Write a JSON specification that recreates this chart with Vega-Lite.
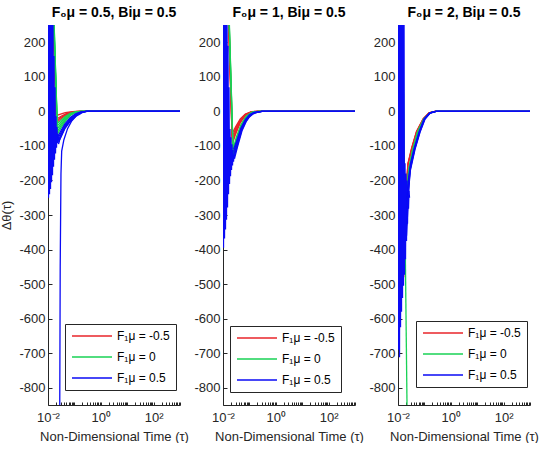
{
  "$schema": "https://vega.github.io/schema/vega-lite/v6.json",
  "padding": {"left": 0, "top": 6, "right": 0, "bottom": 0},
  "config": {
    "view": {"stroke": null},
    "font": "Liberation Sans",
    "axis": {
      "domainColor": "#262626", "tickColor": "#262626", "labelColor": "#262626", "titleColor": "#262626",
      "labelFont": "Liberation Sans", "titleFont": "Liberation Sans", "labelFontSize": 13, "titleFontSize": 13,
      "titleFontWeight": "normal", "grid": false, "tickSize": -4, "labelPadding": 7, "labelFlush": false
    },
    "title": {"fontSize": 14, "font": "Liberation Sans", "fontWeight": "bold", "color": "#000", "offset": 5},
    "legend": {
      "orient": "none", "title": null,
      "symbolType": "M-1,0H7", "symbolSize": 100, "symbolStrokeWidth": 1.5,
      "strokeColor": "#262626", "fillColor": "white", "padding": 6, "rowPadding": 9,
      "labelFont": "Liberation Sans", "labelFontSize": 12, "labelColor": "#000", "labelOffset": 34
    }
  },
  "datasets": {
    "p1": [
      {"g":"-0.5","c":"r1","t":0.0142,"v":350},{"g":"-0.5","c":"r1","t":0.0205,"v":-12},{"g":"-0.5","c":"r1","t":0.03,"v":-8},{"g":"-0.5","c":"r1","t":0.045,"v":-4},{"g":"-0.5","c":"r1","t":0.07,"v":-1.5},{"g":"-0.5","c":"r1","t":0.11,"v":0},{"g":"-0.5","c":"r1","t":1000,"v":0},
      {"g":"-0.5","c":"r2","t":0.0145,"v":350},{"g":"-0.5","c":"r2","t":0.021,"v":-22},{"g":"-0.5","c":"r2","t":0.03,"v":-15},{"g":"-0.5","c":"r2","t":0.045,"v":-8},{"g":"-0.5","c":"r2","t":0.07,"v":-3},{"g":"-0.5","c":"r2","t":0.11,"v":-0.5},{"g":"-0.5","c":"r2","t":0.15,"v":0},{"g":"-0.5","c":"r2","t":1000,"v":0},
      {"g":"-0.5","c":"r4","t":0.0147,"v":350},{"g":"-0.5","c":"r4","t":0.0212,"v":-27},{"g":"-0.5","c":"r4","t":0.03,"v":-18},{"g":"-0.5","c":"r4","t":0.045,"v":-10},{"g":"-0.5","c":"r4","t":0.07,"v":-4},{"g":"-0.5","c":"r4","t":0.11,"v":-0.8},{"g":"-0.5","c":"r4","t":0.155,"v":0},{"g":"-0.5","c":"r4","t":1000,"v":0},
      {"g":"-0.5","c":"r3","t":0.0148,"v":350},{"g":"-0.5","c":"r3","t":0.0215,"v":-32},{"g":"-0.5","c":"r3","t":0.03,"v":-22},{"g":"-0.5","c":"r3","t":0.045,"v":-12},{"g":"-0.5","c":"r3","t":0.07,"v":-5},{"g":"-0.5","c":"r3","t":0.11,"v":-1},{"g":"-0.5","c":"r3","t":0.16,"v":0},{"g":"-0.5","c":"r3","t":1000,"v":0},
      {"g":"0","c":"g1","t":0.015,"v":350},{"g":"0","c":"g1","t":0.022,"v":-35},{"g":"0","c":"g1","t":0.03,"v":-27},{"g":"0","c":"g1","t":0.045,"v":-15},{"g":"0","c":"g1","t":0.07,"v":-6},{"g":"0","c":"g1","t":0.11,"v":-1.5},{"g":"0","c":"g1","t":0.17,"v":0},{"g":"0","c":"g1","t":1000,"v":0},
      {"g":"0","c":"g4","t":0.0151,"v":350},{"g":"0","c":"g4","t":0.0222,"v":-42},{"g":"0","c":"g4","t":0.03,"v":-32},{"g":"0","c":"g4","t":0.045,"v":-18},{"g":"0","c":"g4","t":0.07,"v":-7.5},{"g":"0","c":"g4","t":0.11,"v":-1.8},{"g":"0","c":"g4","t":0.175,"v":0},{"g":"0","c":"g4","t":1000,"v":0},
      {"g":"0","c":"g2","t":0.0153,"v":350},{"g":"0","c":"g2","t":0.0225,"v":-50},{"g":"0","c":"g2","t":0.03,"v":-38},{"g":"0","c":"g2","t":0.045,"v":-22},{"g":"0","c":"g2","t":0.07,"v":-9},{"g":"0","c":"g2","t":0.11,"v":-2},{"g":"0","c":"g2","t":0.18,"v":0},{"g":"0","c":"g2","t":1000,"v":0},
      {"g":"0","c":"g5","t":0.0155,"v":350},{"g":"0","c":"g5","t":0.0228,"v":-58},{"g":"0","c":"g5","t":0.0305,"v":-43},{"g":"0","c":"g5","t":0.0455,"v":-25},{"g":"0","c":"g5","t":0.07,"v":-10.5},{"g":"0","c":"g5","t":0.11,"v":-2.5},{"g":"0","c":"g5","t":0.19,"v":0},{"g":"0","c":"g5","t":1000,"v":0},
      {"g":"0","c":"g3","t":0.0156,"v":350},{"g":"0","c":"g3","t":0.023,"v":-66},{"g":"0","c":"g3","t":0.031,"v":-48},{"g":"0","c":"g3","t":0.046,"v":-28},{"g":"0","c":"g3","t":0.07,"v":-12},{"g":"0","c":"g3","t":0.11,"v":-3},{"g":"0","c":"g3","t":0.2,"v":0},{"g":"0","c":"g3","t":1000,"v":0},
      {"g":"0.5","c":"bz","t":0.01,"v":320},{"g":"0.5","c":"bz","t":0.01045,"v":-250},{"g":"0.5","c":"bz","t":0.01091,"v":320},{"g":"0.5","c":"bz","t":0.0114,"v":-240},{"g":"0.5","c":"bz","t":0.01191,"v":320},{"g":"0.5","c":"bz","t":0.01244,"v":-225},{"g":"0.5","c":"bz","t":0.01299,"v":320},{"g":"0.5","c":"bz","t":0.01357,"v":-205},{"g":"0.5","c":"bz","t":0.01418,"v":320},{"g":"0.5","c":"bz","t":0.01481,"v":-185},{"g":"0.5","c":"bz","t":0.01547,"v":260},{"g":"0.5","c":"bz","t":0.01616,"v":-160},{"g":"0.5","c":"bz","t":0.01688,"v":160},{"g":"0.5","c":"bz","t":0.01763,"v":-140},{"g":"0.5","c":"bz","t":0.01842,"v":70},{"g":"0.5","c":"bz","t":0.01924,"v":-122},{"g":"0.5","c":"bz","t":0.02009,"v":-14},{"g":"0.5","c":"bz","t":0.02099,"v":-105},{"g":"0.5","c":"bz","t":0.02193,"v":-45},{"g":"0.5","c":"bz","t":0.0229,"v":-92},{"g":"0.5","c":"bz","t":0.02392,"v":-65},{"g":"0.5","c":"bz","t":0.02499,"v":-84},
      {"g":"0.5","c":"b1","t":0.0239,"v":-72},{"g":"0.5","c":"b1","t":0.03,"v":-58},{"g":"0.5","c":"b1","t":0.043,"v":-37},{"g":"0.5","c":"b1","t":0.07,"v":-18},{"g":"0.5","c":"b1","t":0.11,"v":-7},{"g":"0.5","c":"b1","t":0.17,"v":-2},{"g":"0.5","c":"b1","t":0.27,"v":0},{"g":"0.5","c":"b1","t":1000,"v":0},
      {"g":"0.5","c":"b4","t":0.0242,"v":-78},{"g":"0.5","c":"b4","t":0.03,"v":-64},{"g":"0.5","c":"b4","t":0.043,"v":-41},{"g":"0.5","c":"b4","t":0.07,"v":-21},{"g":"0.5","c":"b4","t":0.11,"v":-8.5},{"g":"0.5","c":"b4","t":0.17,"v":-2.5},{"g":"0.5","c":"b4","t":0.275,"v":0},{"g":"0.5","c":"b4","t":1000,"v":0},
      {"g":"0.5","c":"b2","t":0.0245,"v":-85},{"g":"0.5","c":"b2","t":0.03,"v":-70},{"g":"0.5","c":"b2","t":0.043,"v":-45},{"g":"0.5","c":"b2","t":0.07,"v":-24},{"g":"0.5","c":"b2","t":0.11,"v":-10},{"g":"0.5","c":"b2","t":0.17,"v":-3},{"g":"0.5","c":"b2","t":0.28,"v":0},{"g":"0.5","c":"b2","t":1000,"v":0},
      {"g":"0.5","c":"b5","t":0.0248,"v":-90},{"g":"0.5","c":"b5","t":0.0289,"v":-78},{"g":"0.5","c":"b5","t":0.043,"v":-48},{"g":"0.5","c":"b5","t":0.067,"v":-28},{"g":"0.5","c":"b5","t":0.1,"v":-15},{"g":"0.5","c":"b5","t":0.14,"v":-7},{"g":"0.5","c":"b5","t":0.19,"v":-2.5},{"g":"0.5","c":"b5","t":0.28,"v":0},{"g":"0.5","c":"b5","t":1000,"v":0},
      {"g":"0.5","c":"b3","t":0.025,"v":-95},{"g":"0.5","c":"b3","t":0.0278,"v":-82},{"g":"0.5","c":"b3","t":0.043,"v":-51},{"g":"0.5","c":"b3","t":0.065,"v":-32},{"g":"0.5","c":"b3","t":0.0886,"v":-22},{"g":"0.5","c":"b3","t":0.12,"v":-13},{"g":"0.5","c":"b3","t":0.159,"v":-8},{"g":"0.5","c":"b3","t":0.2,"v":-3},{"g":"0.5","c":"b3","t":0.275,"v":0},{"g":"0.5","c":"b3","t":1000,"v":0},
      {"g":"0.5","c":"bp","t":0.0276,"v":-950},{"g":"0.5","c":"bp","t":0.029,"v":-450},{"g":"0.5","c":"bp","t":0.031,"v":-180},{"g":"0.5","c":"bp","t":0.033,"v":-115},{"g":"0.5","c":"bp","t":0.04,"v":-82},{"g":"0.5","c":"bp","t":0.055,"v":-50},{"g":"0.5","c":"bp","t":0.08,"v":-27},{"g":"0.5","c":"bp","t":0.12,"v":-12},{"g":"0.5","c":"bp","t":0.17,"v":-4},{"g":"0.5","c":"bp","t":0.3,"v":0},{"g":"0.5","c":"bp","t":1000,"v":0}
    ],
    "p2": [
      {"g":"-0.5","c":"r1","t":0.0148,"v":350},{"g":"-0.5","c":"r1","t":0.022,"v":-65},{"g":"-0.5","c":"r1","t":0.03,"v":-45},{"g":"-0.5","c":"r1","t":0.045,"v":-22},{"g":"-0.5","c":"r1","t":0.07,"v":-8},{"g":"-0.5","c":"r1","t":0.12,"v":-1},{"g":"-0.5","c":"r1","t":0.2,"v":0},{"g":"-0.5","c":"r1","t":1000,"v":0},
      {"g":"-0.5","c":"r4","t":0.015,"v":350},{"g":"-0.5","c":"r4","t":0.0222,"v":-75},{"g":"-0.5","c":"r4","t":0.03,"v":-50},{"g":"-0.5","c":"r4","t":0.045,"v":-25},{"g":"-0.5","c":"r4","t":0.07,"v":-9},{"g":"-0.5","c":"r4","t":0.12,"v":-1.2},{"g":"-0.5","c":"r4","t":0.2,"v":0},{"g":"-0.5","c":"r4","t":1000,"v":0},
      {"g":"-0.5","c":"r2","t":0.0152,"v":350},{"g":"-0.5","c":"r2","t":0.0225,"v":-95},{"g":"-0.5","c":"r2","t":0.03,"v":-66},{"g":"-0.5","c":"r2","t":0.045,"v":-33},{"g":"-0.5","c":"r2","t":0.07,"v":-12},{"g":"-0.5","c":"r2","t":0.12,"v":-2},{"g":"-0.5","c":"r2","t":0.2,"v":0},{"g":"-0.5","c":"r2","t":1000,"v":0},
      {"g":"-0.5","c":"r5","t":0.0154,"v":350},{"g":"-0.5","c":"r5","t":0.0228,"v":-88},{"g":"-0.5","c":"r5","t":0.03,"v":-61},{"g":"-0.5","c":"r5","t":0.045,"v":-30},{"g":"-0.5","c":"r5","t":0.07,"v":-11},{"g":"-0.5","c":"r5","t":0.12,"v":-1.8},{"g":"-0.5","c":"r5","t":0.2,"v":0},{"g":"-0.5","c":"r5","t":1000,"v":0},
      {"g":"-0.5","c":"r3","t":0.0155,"v":350},{"g":"-0.5","c":"r3","t":0.023,"v":-80},{"g":"-0.5","c":"r3","t":0.03,"v":-56},{"g":"-0.5","c":"r3","t":0.045,"v":-28},{"g":"-0.5","c":"r3","t":0.07,"v":-10},{"g":"-0.5","c":"r3","t":0.12,"v":-1.5},{"g":"-0.5","c":"r3","t":0.2,"v":0},{"g":"-0.5","c":"r3","t":1000,"v":0},
      {"g":"0","c":"g1","t":0.0156,"v":350},{"g":"0","c":"g1","t":0.024,"v":-110},{"g":"0","c":"g1","t":0.032,"v":-75},{"g":"0","c":"g1","t":0.048,"v":-38},{"g":"0","c":"g1","t":0.075,"v":-14},{"g":"0","c":"g1","t":0.12,"v":-3},{"g":"0","c":"g1","t":0.22,"v":0},{"g":"0","c":"g1","t":1000,"v":0},
      {"g":"0","c":"g3","t":0.0158,"v":350},{"g":"0","c":"g3","t":0.0242,"v":-120},{"g":"0","c":"g3","t":0.032,"v":-83},{"g":"0","c":"g3","t":0.049,"v":-40},{"g":"0","c":"g3","t":0.077,"v":-14.5},{"g":"0","c":"g3","t":0.125,"v":-3},{"g":"0","c":"g3","t":0.22,"v":0},{"g":"0","c":"g3","t":1000,"v":0},
      {"g":"0","c":"g2","t":0.016,"v":350},{"g":"0","c":"g2","t":0.0245,"v":-130},{"g":"0","c":"g2","t":0.032,"v":-92},{"g":"0","c":"g2","t":0.05,"v":-43},{"g":"0","c":"g2","t":0.08,"v":-15},{"g":"0","c":"g2","t":0.13,"v":-3},{"g":"0","c":"g2","t":0.22,"v":0},{"g":"0","c":"g2","t":1000,"v":0},
      {"g":"0.5","c":"bz","t":0.01,"v":320},{"g":"0.5","c":"bz","t":0.01045,"v":-395},{"g":"0.5","c":"bz","t":0.01091,"v":320},{"g":"0.5","c":"bz","t":0.0114,"v":-368},{"g":"0.5","c":"bz","t":0.01191,"v":320},{"g":"0.5","c":"bz","t":0.01244,"v":-342},{"g":"0.5","c":"bz","t":0.01299,"v":320},{"g":"0.5","c":"bz","t":0.01357,"v":-314},{"g":"0.5","c":"bz","t":0.01418,"v":320},{"g":"0.5","c":"bz","t":0.01481,"v":-278},{"g":"0.5","c":"bz","t":0.01547,"v":190},{"g":"0.5","c":"bz","t":0.01616,"v":-240},{"g":"0.5","c":"bz","t":0.01688,"v":70},{"g":"0.5","c":"bz","t":0.01763,"v":-210},{"g":"0.5","c":"bz","t":0.01842,"v":-51},{"g":"0.5","c":"bz","t":0.01924,"v":-188},{"g":"0.5","c":"bz","t":0.02009,"v":-75},{"g":"0.5","c":"bz","t":0.02099,"v":-170},{"g":"0.5","c":"bz","t":0.02193,"v":-95},{"g":"0.5","c":"bz","t":0.0229,"v":-157},{"g":"0.5","c":"bz","t":0.02392,"v":-112},{"g":"0.5","c":"bz","t":0.02499,"v":-146},{"g":"0.5","c":"bz","t":0.0261,"v":-125},{"g":"0.5","c":"bz","t":0.02727,"v":-137},
      {"g":"0.5","c":"b1","t":0.025,"v":-110},{"g":"0.5","c":"b1","t":0.033,"v":-85},{"g":"0.5","c":"b1","t":0.048,"v":-48},{"g":"0.5","c":"b1","t":0.07,"v":-24},{"g":"0.5","c":"b1","t":0.1,"v":-10},{"g":"0.5","c":"b1","t":0.15,"v":-3},{"g":"0.5","c":"b1","t":0.28,"v":0},{"g":"0.5","c":"b1","t":1000,"v":0},
      {"g":"0.5","c":"b4","t":0.0255,"v":-117},{"g":"0.5","c":"b4","t":0.034,"v":-88},{"g":"0.5","c":"b4","t":0.049,"v":-50},{"g":"0.5","c":"b4","t":0.072,"v":-25},{"g":"0.5","c":"b4","t":0.1,"v":-11.5},{"g":"0.5","c":"b4","t":0.15,"v":-3.5},{"g":"0.5","c":"b4","t":0.29,"v":0},{"g":"0.5","c":"b4","t":1000,"v":0},
      {"g":"0.5","c":"b2","t":0.026,"v":-125},{"g":"0.5","c":"b2","t":0.035,"v":-92},{"g":"0.5","c":"b2","t":0.05,"v":-52},{"g":"0.5","c":"b2","t":0.075,"v":-26},{"g":"0.5","c":"b2","t":0.1,"v":-13},{"g":"0.5","c":"b2","t":0.15,"v":-4},{"g":"0.5","c":"b2","t":0.3,"v":0},{"g":"0.5","c":"b2","t":1000,"v":0},
      {"g":"0.5","c":"b5","t":0.0266,"v":-131},{"g":"0.5","c":"b5","t":0.035,"v":-98},{"g":"0.5","c":"b5","t":0.052,"v":-53},{"g":"0.5","c":"b5","t":0.075,"v":-28},{"g":"0.5","c":"b5","t":0.1,"v":-14.5},{"g":"0.5","c":"b5","t":0.145,"v":-5.5},{"g":"0.5","c":"b5","t":0.3,"v":0},{"g":"0.5","c":"b5","t":1000,"v":0},
      {"g":"0.5","c":"b3","t":0.0272,"v":-137},{"g":"0.5","c":"b3","t":0.035,"v":-104},{"g":"0.5","c":"b3","t":0.053,"v":-55},{"g":"0.5","c":"b3","t":0.075,"v":-30},{"g":"0.5","c":"b3","t":0.1,"v":-16},{"g":"0.5","c":"b3","t":0.14,"v":-7},{"g":"0.5","c":"b3","t":0.19,"v":-3},{"g":"0.5","c":"b3","t":0.3,"v":0},{"g":"0.5","c":"b3","t":1000,"v":0}
    ],
    "p3": [
      {"g":"-0.5","c":"r1","t":0.0165,"v":-480},{"g":"-0.5","c":"r1","t":0.0215,"v":-215},{"g":"-0.5","c":"r1","t":0.0234,"v":-157},{"g":"-0.5","c":"r1","t":0.0331,"v":-109},{"g":"-0.5","c":"r1","t":0.051,"v":-60},{"g":"-0.5","c":"r1","t":0.0916,"v":-22},{"g":"-0.5","c":"r1","t":0.15,"v":-4},{"g":"-0.5","c":"r1","t":0.25,"v":0},{"g":"-0.5","c":"r1","t":1000,"v":0},
      {"g":"-0.5","c":"r3","t":0.0168,"v":-470},{"g":"-0.5","c":"r3","t":0.0218,"v":-202},{"g":"-0.5","c":"r3","t":0.0237,"v":-154},{"g":"-0.5","c":"r3","t":0.0332,"v":-107},{"g":"-0.5","c":"r3","t":0.0505,"v":-59},{"g":"-0.5","c":"r3","t":0.091,"v":-21.5},{"g":"-0.5","c":"r3","t":0.15,"v":-4},{"g":"-0.5","c":"r3","t":0.25,"v":0},{"g":"-0.5","c":"r3","t":1000,"v":0},
      {"g":"-0.5","c":"r2","t":0.017,"v":-460},{"g":"-0.5","c":"r2","t":0.022,"v":-190},{"g":"-0.5","c":"r2","t":0.024,"v":-150},{"g":"-0.5","c":"r2","t":0.033,"v":-105},{"g":"-0.5","c":"r2","t":0.05,"v":-58},{"g":"-0.5","c":"r2","t":0.09,"v":-21},{"g":"-0.5","c":"r2","t":0.15,"v":-4},{"g":"-0.5","c":"r2","t":0.25,"v":0},{"g":"-0.5","c":"r2","t":1000,"v":0},
      {"g":"0","c":"g1","t":0.0147,"v":350},{"g":"0","c":"g1","t":0.0223,"v":-900},
      {"g":"0","c":"g2","t":0.0175,"v":-440},{"g":"0","c":"g2","t":0.0225,"v":-230},{"g":"0","c":"g2","t":0.025,"v":-175},{"g":"0","c":"g2","t":0.035,"v":-115},{"g":"0","c":"g2","t":0.055,"v":-60},{"g":"0","c":"g2","t":0.095,"v":-22},{"g":"0","c":"g2","t":0.16,"v":-4},{"g":"0","c":"g2","t":0.27,"v":0},{"g":"0","c":"g2","t":1000,"v":0},
      {"g":"0","c":"g4","t":0.0178,"v":-430},{"g":"0","c":"g4","t":0.0228,"v":-222},{"g":"0","c":"g4","t":0.0255,"v":-170},{"g":"0","c":"g4","t":0.0355,"v":-113},{"g":"0","c":"g4","t":0.0555,"v":-59.5},{"g":"0","c":"g4","t":0.0955,"v":-21.5},{"g":"0","c":"g4","t":0.16,"v":-4},{"g":"0","c":"g4","t":0.27,"v":0},{"g":"0","c":"g4","t":1000,"v":0},
      {"g":"0","c":"g3","t":0.018,"v":-420},{"g":"0","c":"g3","t":0.023,"v":-215},{"g":"0","c":"g3","t":0.026,"v":-165},{"g":"0","c":"g3","t":0.036,"v":-112},{"g":"0","c":"g3","t":0.056,"v":-59},{"g":"0","c":"g3","t":0.096,"v":-21},{"g":"0","c":"g3","t":0.16,"v":-4},{"g":"0","c":"g3","t":0.27,"v":0},{"g":"0","c":"g3","t":1000,"v":0},
      {"g":"0.5","c":"bz","t":0.01,"v":320},{"g":"0.5","c":"bz","t":0.01045,"v":-690},{"g":"0.5","c":"bz","t":0.01091,"v":320},{"g":"0.5","c":"bz","t":0.0114,"v":-712},{"g":"0.5","c":"bz","t":0.01191,"v":320},{"g":"0.5","c":"bz","t":0.01244,"v":-625},{"g":"0.5","c":"bz","t":0.01299,"v":320},{"g":"0.5","c":"bz","t":0.01357,"v":-580},{"g":"0.5","c":"bz","t":0.01418,"v":320},{"g":"0.5","c":"bz","t":0.01481,"v":-540},{"g":"0.5","c":"bz","t":0.01547,"v":320},{"g":"0.5","c":"bz","t":0.01616,"v":-505},{"g":"0.5","c":"bz","t":0.01688,"v":320},{"g":"0.5","c":"bz","t":0.01763,"v":-473},{"g":"0.5","c":"bz","t":0.01842,"v":-150},{"g":"0.5","c":"bz","t":0.01924,"v":-428},{"g":"0.5","c":"bz","t":0.02009,"v":-180},{"g":"0.5","c":"bz","t":0.02099,"v":-375},{"g":"0.5","c":"bz","t":0.02193,"v":-200},{"g":"0.5","c":"bz","t":0.0229,"v":-325},{"g":"0.5","c":"bz","t":0.02392,"v":-215},{"g":"0.5","c":"bz","t":0.02499,"v":-282},{"g":"0.5","c":"bz","t":0.0261,"v":-230},{"g":"0.5","c":"bz","t":0.02727,"v":-250},
      {"g":"0.5","c":"b1","t":0.022,"v":-260},{"g":"0.5","c":"b1","t":0.025,"v":-195},{"g":"0.5","c":"b1","t":0.03,"v":-150},{"g":"0.5","c":"b1","t":0.04,"v":-110},{"g":"0.5","c":"b1","t":0.062,"v":-60},{"g":"0.5","c":"b1","t":0.098,"v":-22},{"g":"0.5","c":"b1","t":0.16,"v":-4},{"g":"0.5","c":"b1","t":0.27,"v":0},{"g":"0.5","c":"b1","t":1000,"v":0},
      {"g":"0.5","c":"b4","t":0.0218,"v":-280},{"g":"0.5","c":"b4","t":0.025,"v":-205},{"g":"0.5","c":"b4","t":0.03,"v":-155},{"g":"0.5","c":"b4","t":0.041,"v":-110},{"g":"0.5","c":"b4","t":0.0635,"v":-60},{"g":"0.5","c":"b4","t":0.099,"v":-22.5},{"g":"0.5","c":"b4","t":0.16,"v":-4.5},{"g":"0.5","c":"b4","t":0.27,"v":0},{"g":"0.5","c":"b4","t":1000,"v":0},
      {"g":"0.5","c":"b2","t":0.0215,"v":-300},{"g":"0.5","c":"b2","t":0.025,"v":-215},{"g":"0.5","c":"b2","t":0.03,"v":-160},{"g":"0.5","c":"b2","t":0.042,"v":-110},{"g":"0.5","c":"b2","t":0.065,"v":-60},{"g":"0.5","c":"b2","t":0.1,"v":-23},{"g":"0.5","c":"b2","t":0.16,"v":-5},{"g":"0.5","c":"b2","t":0.27,"v":0},{"g":"0.5","c":"b2","t":1000,"v":0},
      {"g":"0.5","c":"b5","t":0.0212,"v":-330},{"g":"0.5","c":"b5","t":0.0248,"v":-232},{"g":"0.5","c":"b5","t":0.029,"v":-168},{"g":"0.5","c":"b5","t":0.043,"v":-109.5},{"g":"0.5","c":"b5","t":0.067,"v":-60},{"g":"0.5","c":"b5","t":0.103,"v":-22.5},{"g":"0.5","c":"b5","t":0.163,"v":-5},{"g":"0.5","c":"b5","t":0.275,"v":0},{"g":"0.5","c":"b5","t":1000,"v":0},
      {"g":"0.5","c":"b3","t":0.021,"v":-360},{"g":"0.5","c":"b3","t":0.0245,"v":-250},{"g":"0.5","c":"b3","t":0.0286,"v":-175},{"g":"0.5","c":"b3","t":0.0443,"v":-109},{"g":"0.5","c":"b3","t":0.0686,"v":-60},{"g":"0.5","c":"b3","t":0.106,"v":-22},{"g":"0.5","c":"b3","t":0.165,"v":-5},{"g":"0.5","c":"b3","t":0.28,"v":0},{"g":"0.5","c":"b3","t":1000,"v":0}
    ]
  },
  "spacing": 4,
  "resolve": {"scale": {"color": "independent"}},
  "hconcat": [
    {
      "title": "F₀μ = 0.5, Biμ = 0.5",
      "width": 132, "height": 380,
      "data": {"name": "p1"},
      "encoding": {
        "x": {"field": "t", "type": "quantitative", "scale": {"type": "log", "domain": [0.01, 1000], "nice": false},
          "axis": {"title": "Non-Dimensional Time (τ)", "labelOverlap": false, "tickSize": -3, "labelPadding": 9, "titlePadding": 6,
            "values": [0.01,0.02,0.03,0.04,0.05,0.06,0.07,0.08,0.09,0.1,0.2,0.3,0.4,0.5,0.6,0.7,0.8,0.9,1,2,3,4,5,6,7,8,9,10,20,30,40,50,60,70,80,90,100,200,300,400,500,600,700,800,900,1000],
            "labelExpr": "datum.value == 0.01 ? '10⁻²' : datum.value == 1 ? '10⁰' : datum.value == 100 ? '10²' : ''"}},
        "y": {"field": "v", "type": "quantitative", "scale": {"domain": [-850, 250], "nice": false},
          "axis": {"title": "Δθ(τ)", "titlePadding": 5, "values": [-800,-700,-600,-500,-400,-300,-200,-100,0,100,200], "labelExpr": "'' + datum.value"}},
        "color": {"field": "g", "type": "nominal", "scale": {"domain": ["-0.5", "0", "0.5"], "range": ["#e8252a", "#19d255", "#0a0af5"]},
          "legend": {"legendX": 17, "legendY": 299, "labelExpr": "'F₁μ = ' + datum.label"}},
        "detail": {"field": "c"}
      },
      "layer": [
        {"transform": [{"filter": "datum.g == '-0.5'"}], "mark": {"type": "line", "clip": true, "strokeWidth": 1.3}},
        {"transform": [{"filter": "datum.g == '0'"}], "mark": {"type": "line", "clip": true, "strokeWidth": 1.3}},
        {"transform": [{"filter": "datum.g == '0.5'"}], "mark": {"type": "line", "clip": true, "strokeWidth": 1.3}}
      ]
    },
    {
      "title": "F₀μ = 1, Biμ = 0.5",
      "width": 132, "height": 380,
      "data": {"name": "p2"},
      "encoding": {
        "x": {"field": "t", "type": "quantitative", "scale": {"type": "log", "domain": [0.01, 1000], "nice": false},
          "axis": {"title": "Non-Dimensional Time (τ)", "labelOverlap": false, "tickSize": -3, "labelPadding": 9, "titlePadding": 6,
            "values": [0.01,0.02,0.03,0.04,0.05,0.06,0.07,0.08,0.09,0.1,0.2,0.3,0.4,0.5,0.6,0.7,0.8,0.9,1,2,3,4,5,6,7,8,9,10,20,30,40,50,60,70,80,90,100,200,300,400,500,600,700,800,900,1000],
            "labelExpr": "datum.value == 0.01 ? '10⁻²' : datum.value == 1 ? '10⁰' : datum.value == 100 ? '10²' : ''"}},
        "y": {"field": "v", "type": "quantitative", "scale": {"domain": [-850, 250], "nice": false},
          "axis": {"title": null, "values": [-800,-700,-600,-500,-400,-300,-200,-100,0,100,200], "labelExpr": "'' + datum.value"}},
        "color": {"field": "g", "type": "nominal", "scale": {"domain": ["-0.5", "0", "0.5"], "range": ["#e8252a", "#19d255", "#0a0af5"]},
          "legend": {"legendX": 7, "legendY": 301, "labelExpr": "'F₁μ = ' + datum.label"}},
        "detail": {"field": "c"}
      },
      "layer": [
        {"transform": [{"filter": "datum.g == '-0.5'"}], "mark": {"type": "line", "clip": true, "strokeWidth": 1.3}},
        {"transform": [{"filter": "datum.g == '0'"}], "mark": {"type": "line", "clip": true, "strokeWidth": 1.3}},
        {"transform": [{"filter": "datum.g == '0.5'"}], "mark": {"type": "line", "clip": true, "strokeWidth": 1.3}}
      ]
    },
    {
      "title": "F₀μ = 2, Biμ = 0.5",
      "width": 132, "height": 380,
      "data": {"name": "p3"},
      "encoding": {
        "x": {"field": "t", "type": "quantitative", "scale": {"type": "log", "domain": [0.01, 1000], "nice": false},
          "axis": {"title": "Non-Dimensional Time (τ)", "labelOverlap": false, "tickSize": -3, "labelPadding": 9, "titlePadding": 6,
            "values": [0.01,0.02,0.03,0.04,0.05,0.06,0.07,0.08,0.09,0.1,0.2,0.3,0.4,0.5,0.6,0.7,0.8,0.9,1,2,3,4,5,6,7,8,9,10,20,30,40,50,60,70,80,90,100,200,300,400,500,600,700,800,900,1000],
            "labelExpr": "datum.value == 0.01 ? '10⁻²' : datum.value == 1 ? '10⁰' : datum.value == 100 ? '10²' : ''"}},
        "y": {"field": "v", "type": "quantitative", "scale": {"domain": [-850, 250], "nice": false},
          "axis": {"title": null, "values": [-800,-700,-600,-500,-400,-300,-200,-100,0,100,200], "labelExpr": "'' + datum.value"}},
        "color": {"field": "g", "type": "nominal", "scale": {"domain": ["-0.5", "0", "0.5"], "range": ["#e8252a", "#19d255", "#0a0af5"]},
          "legend": {"legendX": 18, "legendY": 296, "labelExpr": "'F₁μ = ' + datum.label"}},
        "detail": {"field": "c"}
      },
      "layer": [
        {"transform": [{"filter": "datum.g == '-0.5'"}], "mark": {"type": "line", "clip": true, "strokeWidth": 1.3}},
        {"transform": [{"filter": "datum.g == '0'"}], "mark": {"type": "line", "clip": true, "strokeWidth": 1.3}},
        {"transform": [{"filter": "datum.g == '0.5'"}], "mark": {"type": "line", "clip": true, "strokeWidth": 1.3}}
      ]
    }
  ]
}
